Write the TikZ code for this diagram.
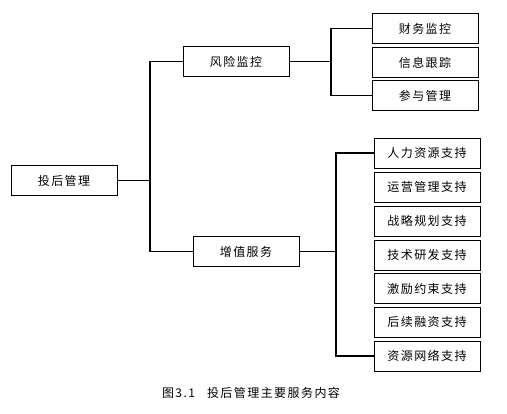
\documentclass[tikz,border=0pt]{standalone}
\usepackage{fontspec}
\newfontfamily\cjk[LetterSpace=12]{Noto Sans CJK SC}

\begin{document}
\begin{tikzpicture}[x=1pt,y=-1pt,
  box/.style={draw,line width=0.8pt,minimum width=106pt,minimum height=30pt,inner sep=0pt,font=\cjk\fontsize{12}{14}\selectfont},
  link/.style={line width=1.2pt}]
\useasboundingbox (0,0) rectangle (507,414);
% Root and first level
\node[box] (root) at (64,180.5) {投后管理};
\node[box] (risk) at (236,61.5) {风险监控};
\node[box] (value) at (246,251.5) {增值服务};
% Risk control items
\node[box] (fin) at (425,28.5) {财务监控};
\node[box] (info) at (425,62.5) {信息跟踪};
\node[box] (part) at (425,95.5) {参与管理};
% Value added items
\node[box] (hr) at (427,153) {人力资源支持};
\node[box] (ops) at (427,187) {运营管理支持};
\node[box] (plan) at (427,221) {战略规划支持};
\node[box] (tech) at (427,255) {技术研发支持};
\node[box] (incent) at (427,288.5) {激励约束支持};
\node[box] (fund) at (427,322) {后续融资支持};
\node[box] (net) at (427,356) {资源网络支持};
% Split points
\coordinate (split) at (150,180.5);
\coordinate (rsplit) at (331,61.5);
\coordinate (vsplit) at (336,251.5);
% Connectors
\draw[link] (root) -- (split);
\draw[link] (risk.west) -| (split) |- (value.west);
\draw[link] (risk) -- (rsplit);
\draw[link] (fin.west) -| (rsplit) |- (part.west);
\draw[link] (value) -- (vsplit);
\draw[link] (hr.west) -| (vsplit) |- (net.west);
% Caption
\node[font=\cjk\fontsize{12}{14}\selectfont] (cap) at (251,393) {图3.1\quad 投后管理主要服务内容};
\end{tikzpicture}
\end{document}
